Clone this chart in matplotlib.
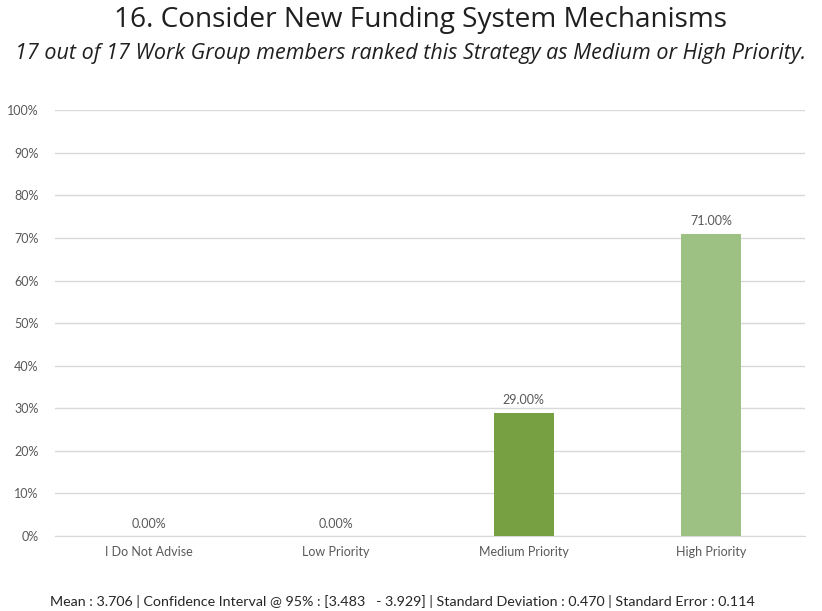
import matplotlib
matplotlib.use("Agg")
import matplotlib.pyplot as plt
from matplotlib.ticker import FuncFormatter

categories = ["I Do Not Advise", "Low Priority", "Medium Priority", "High Priority"]
shares = [0.0, 0.0, 29.0, 71.0]
bar_colors = ["#77A043", "#77A043", "#77A043", "#9DC183"]

title = "16. Consider New Funding System Mechanisms"
subtitle = "17 out of 17 Work Group members ranked this Strategy as Medium or High Priority."
stats_line = ("Mean : 3.706 | Confidence Interval @ 95% : [3.483   - 3.929] | "
              "Standard Deviation : 0.470 | Standard Error : 0.114")

plt.rcParams["font.family"] = ["Lato", "DejaVu Sans"]

fig = plt.figure(figsize=(8.22, 6.11), dpi=100)
ax = fig.add_axes([0.067, 0.1227, 0.912, 0.697])

x = range(len(categories))
ax.bar(x, shares, width=0.32, color=bar_colors, zorder=3)

for xi, v in zip(x, shares):
    ax.text(xi, v + 1.5, "%.2f%%" % v, ha="center", va="bottom",
            fontsize=9, color="#595959")

ax.set_xlim(-0.5, len(categories) - 0.5)
ax.set_ylim(0, 100)
ax.set_yticks(range(0, 101, 10))
ax.yaxis.set_major_formatter(FuncFormatter(lambda v, p: "%d%%" % v))
ax.set_xticks(list(x))
ax.set_xticklabels(categories)
ax.tick_params(axis="both", length=0, labelsize=9, colors="#595959")
ax.tick_params(axis="y", pad=12)
ax.tick_params(axis="x", pad=7)

ax.grid(axis="y", color="#D9D9D9", linewidth=1, zorder=0)
for side in ["top", "right", "left"]:
    ax.spines[side].set_visible(False)
ax.spines["bottom"].set_color("#D9D9D9")

fig.text(0.511, 0.967, title, ha="center", va="center", fontsize=20.2,
         color="#1F1F1F", family=["Open Sans", "DejaVu Sans"])
fig.text(0.5, 0.913, subtitle, ha="center", va="center", fontsize=15.5,
         style="italic", color="#1F1F1F", family=["Open Sans", "DejaVu Sans"])
fig.text(0.489, 0.016, stats_line, ha="center", va="center", fontsize=10.3,
         color="#262626")

fig.savefig("out.png", dpi=100, facecolor="white")
